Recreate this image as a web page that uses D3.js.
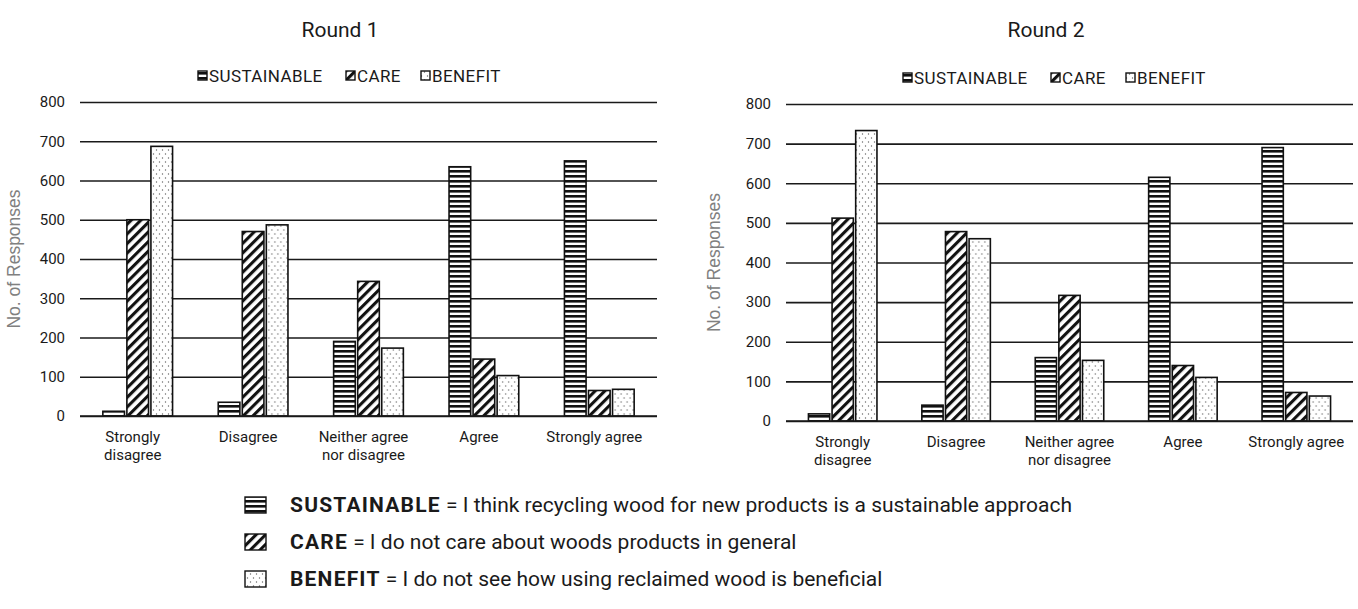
<!DOCTYPE html>
<html>
<head>
<meta charset="utf-8">
<script src="https://cdn.jsdelivr.net/npm/d3@7"></script>
<style>
  body { margin: 0; background: #fff; }
  text { font-family: Roboto, "Noto Sans", sans-serif; fill: #1a1a1a; }
</style>
</head>
<body>
<script>
/* Data */

const categories = ["Strongly disagree", "Disagree", "Neither agree nor disagree", "Agree", "Strongly agree"];
const categoryLines = [["Strongly", "disagree"], ["Disagree"], ["Neither agree", "nor disagree"], ["Agree"], ["Strongly agree"]];
const seriesNames = ["SUSTAINABLE", "CARE", "BENEFIT"];

const round1Sustainable = [12, 35, 190, 635, 650];
const round1Care        = [500, 470, 343, 145, 65];
const round1Benefit     = [687, 487, 173, 103, 68];

const round2Sustainable = [18, 40, 160, 615, 690];
const round2Care        = [512, 478, 317, 140, 72];
const round2Benefit     = [733, 460, 153, 110, 63];

const yTicks = [0, 100, 200, 300, 400, 500, 600, 700, 800];

const legendText = [
  " = I think recycling wood for new products is a sustainable approach",
  " = I do not care about woods products in general",
  " = I do not see how using reclaimed wood is beneficial"
];

/* SVG */

const w = 1358, h = 609;

const svg = d3.select("body").append("svg")
  .attr("width", w)
  .attr("height", h);

svg.append("rect").attr("width", w).attr("height", h).attr("fill", "#fff");

/* Patterns */

const defs = svg.append("defs");

const pStripe = defs.append("pattern")
  .attr("id", "p-SUSTAINABLE")
  .attr("patternUnits", "userSpaceOnUse")
  .attr("width", 6).attr("height", 5);
pStripe.append("rect").attr("width", 6).attr("height", 5).attr("fill", "#fff");
pStripe.append("rect").attr("y", 0).attr("width", 6).attr("height", 2.6).attr("fill", "#111");

const pHatch = defs.append("pattern")
  .attr("id", "p-CARE")
  .attr("patternUnits", "userSpaceOnUse")
  .attr("width", 6.8).attr("height", 6.8)
  .attr("patternTransform", "rotate(45)");
pHatch.append("rect").attr("width", 6.8).attr("height", 6.8).attr("fill", "#fff");
pHatch.append("rect").attr("x", 0).attr("width", 3.1).attr("height", 6.8).attr("fill", "#111");

const pDot = defs.append("pattern")
  .attr("id", "p-BENEFIT")
  .attr("patternUnits", "userSpaceOnUse")
  .attr("width", 6).attr("height", 8);
pDot.append("rect").attr("width", 6).attr("height", 8).attr("fill", "#fff");
pDot.append("circle").attr("cx", 1.5).attr("cy", 2).attr("r", 0.7).attr("fill", "#666");
pDot.append("circle").attr("cx", 4.5).attr("cy", 6).attr("r", 0.7).attr("fill", "#666");

/* One panel */

function drawPanel(cfg) {
  const data = categories.map((c, i) => ({
    category: c,
    lines: categoryLines[i],
    values: seriesNames.map((s, j) => ({ series: s, value: cfg.values[j][i] }))
  }));

  const x0 = d3.scaleBand().domain(categories).range([cfg.left, cfg.right]);
  const x1 = d3.scaleBand().domain(seriesNames).range([0, x0.bandwidth()])
    .paddingInner(0.1).paddingOuter(0.95);
  const y = d3.scaleLinear().domain([0, 800]).range([cfg.bottom, cfg.top]);

  const g = svg.append("g");

  // gridlines + tick labels
  const yAxis = g.append("g")
    .attr("transform", "translate(" + cfg.left + ",0)")
    .call(d3.axisLeft(y).tickValues(yTicks).tickSize(-(cfg.right - cfg.left)).tickPadding(15));
  yAxis.select(".domain").remove();
  yAxis.selectAll(".tick line").attr("stroke", "#1a1a1a").attr("stroke-width", 1.6);
  yAxis.selectAll(".tick text")
    .style("font-family", "Roboto, sans-serif")
    .style("font-size", "15px")
    .attr("fill", "#1a1a1a");

  // bars
  g.selectAll(".group")
    .data(data)
    .enter().append("g")
    .attr("transform", d => "translate(" + x0(d.category) + ",0)")
    .selectAll("rect")
    .data(d => d.values)
    .enter().append("rect")
    .attr("x", d => x1(d.series))
    .attr("y", d => y(d.value))
    .attr("width", x1.bandwidth())
    .attr("height", d => y(0) - y(d.value))
    .attr("fill", d => "url(#p-" + d.series + ")")
    .attr("stroke", "#111")
    .attr("stroke-width", 1.6);

  // baseline on top
  g.append("line")
    .attr("x1", cfg.left).attr("x2", cfg.right)
    .attr("y1", y(0)).attr("y2", y(0))
    .attr("stroke", "#1a1a1a").attr("stroke-width", 1.6);

  // category labels
  const lab = g.selectAll(".cat")
    .data(data)
    .enter().append("text")
    .attr("text-anchor", "middle")
    .attr("x", d => x0(d.category) + x0.bandwidth() / 2 - cfg.labelShift)
    .attr("y", cfg.bottom + 26)
    .style("font-size", "15px");
  lab.selectAll("tspan")
    .data(d => d.lines)
    .enter().append("tspan")
    .attr("x", function () { return d3.select(this.parentNode).attr("x"); })
    .attr("dy", (d, i) => i === 0 ? 0 : 18)
    .text(d => d);

  // y title
  g.append("text")
    .attr("transform", "translate(" + cfg.yTitleX + "," + (cfg.top + cfg.bottom) / 2 + ") rotate(-90)")
    .attr("text-anchor", "middle")
    .style("font-family", "'Liberation Sans', Arial, sans-serif")
    .style("font-size", "17.5px")
    .style("fill", "#808080")
    .text("No. of Responses");

  // title
  g.append("text")
    .attr("x", cfg.titleX).attr("y", 37)
    .attr("text-anchor", "middle")
    .style("font-size", "21px")
    .text(cfg.title);

  // top legend
  const leg = g.append("g").attr("transform", "translate(" + cfg.legendX + "," + cfg.legendY + ")");
  const offsets = [0, 148, 223];
  seriesNames.forEach((s, i) => {
    leg.append("rect")
      .attr("x", offsets[i]).attr("y", -11)
      .attr("width", 9).attr("height", 9)
      .attr("fill", "url(#p-" + s + ")")
      .attr("stroke", "#111").attr("stroke-width", 1.4);
    leg.append("text")
      .attr("x", offsets[i] + 11).attr("y", 0)
      .style("font-size", "17px")
      .style("letter-spacing", "0.4px")
      .text(s);
  });
}

drawPanel({
  title: "Round 1", titleX: 340,
  left: 80, right: 657, top: 102, bottom: 416,
  yTitleX: 20, legendX: 198, legendY: 82, labelShift: 5,
  values: [round1Sustainable, round1Care, round1Benefit]
});

drawPanel({
  title: "Round 2", titleX: 1046,
  left: 786, right: 1353, top: 104, bottom: 421,
  yTitleX: 720, legendX: 903, legendY: 84, labelShift: 0,
  values: [round2Sustainable, round2Care, round2Benefit]
});

/* Bottom legend */

const bottom = svg.append("g");
seriesNames.forEach((s, i) => {
  const yy = 497 + i * 37;
  bottom.append("rect")
    .attr("x", 245).attr("y", yy)
    .attr("width", 21).attr("height", 16)
    .attr("fill", "url(#p-" + s + ")")
    .attr("stroke", "#111").attr("stroke-width", 1.4);
  const t = bottom.append("text")
    .attr("x", 290).attr("y", yy + 15)
    .style("font-size", "21px");
  t.append("tspan").style("font-weight", 700).style("letter-spacing", "1.2px").text(s);
  t.append("tspan").text(legendText[i]);
});
</script>
</body>
</html>
